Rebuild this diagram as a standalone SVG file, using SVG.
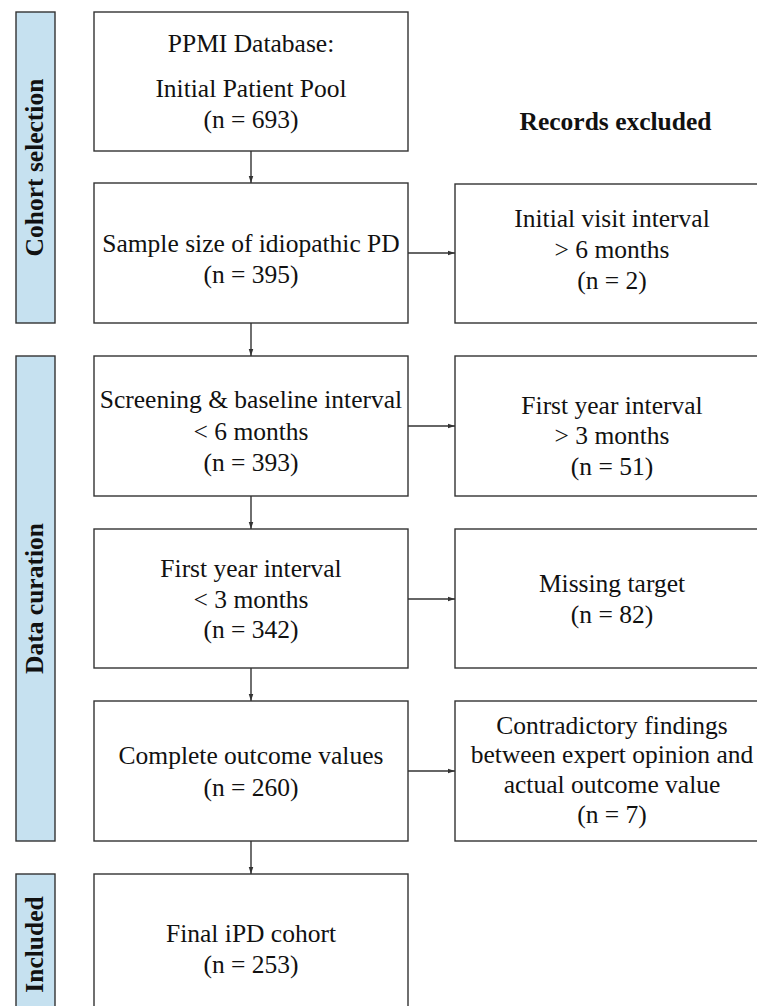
<svg xmlns="http://www.w3.org/2000/svg" width="757" height="1006" viewBox="0 0 757 1006">
<style>
.box{fill:#fff;stroke:#333;stroke-width:1.4}
.side{fill:#c6e1f0;stroke:#333;stroke-width:1.4}
.t{font-family:"Liberation Serif","Times New Roman","DejaVu Serif",serif;font-size:25.5px;fill:#111;text-anchor:middle}
.b{font-family:"Liberation Serif","Times New Roman","DejaVu Serif",serif;font-size:25.5px;font-weight:700;fill:#111;text-anchor:middle}
.c{stroke:#333;stroke-width:1.4;fill:none;marker-end:url(#ah)}
</style>
<defs>
<marker id="ah" viewBox="0 0 10 10" refX="10" refY="5" markerWidth="7" markerHeight="7" markerUnits="userSpaceOnUse" orient="auto">
<path d="M0,1.8 L10,5 L0,8.2 z" fill="#333"/>
</marker>
</defs>
<rect width="757" height="1006" fill="#fff"/>
<g id="side-cohort"><rect class="side" x="16" y="12" width="39" height="311"/><text class="b" transform="translate(43,167.5) rotate(-90)">Cohort selection</text></g>
<g id="side-curation"><rect class="side" x="16" y="356" width="39" height="485"/><text class="b" transform="translate(43,598.5) rotate(-90)">Data curation</text></g>
<g id="side-included"><rect class="side" x="16" y="874" width="39" height="140"/><text class="b" transform="translate(43,944.5) rotate(-90)">Included</text></g>
<g id="hdr"><text class="b" x="615.5" y="130">Records excluded</text></g>
<g id="n1"><rect class="box" x="94" y="12" width="314" height="139"/><text class="t" x="251" y="52">PPMI Database:</text><text class="t" x="251" y="97">Initial Patient Pool</text><text class="t" x="251" y="128">(n = 693)</text></g>
<g id="n2"><rect class="box" x="94" y="183" width="314" height="140"/><text class="t" x="251" y="252">Sample size of idiopathic PD</text><text class="t" x="251" y="283">(n = 395)</text></g>
<g id="n3"><rect class="box" x="94" y="356" width="314" height="140"/><text class="t" x="251" y="408">Screening &amp; baseline interval</text><text class="t" x="251" y="440">&lt; 6 months</text><text class="t" x="251" y="471">(n = 393)</text></g>
<g id="n4"><rect class="box" x="94" y="529" width="314" height="139"/><text class="t" x="251" y="577">First year interval</text><text class="t" x="251" y="608">&lt; 3 months</text><text class="t" x="251" y="638">(n = 342)</text></g>
<g id="n5"><rect class="box" x="94" y="701" width="314" height="140"/><text class="t" x="251" y="764">Complete outcome values</text><text class="t" x="251" y="796">(n = 260)</text></g>
<g id="n6"><rect class="box" x="94" y="874" width="314" height="140"/><text class="t" x="251" y="942">Final iPD cohort</text><text class="t" x="251" y="973">(n = 253)</text></g>
<g id="e1"><rect class="box" x="455" y="184" width="314" height="139"/><text class="t" x="612" y="227">Initial visit interval</text><text class="t" x="612" y="258">&gt; 6 months</text><text class="t" x="612" y="289">(n = 2)</text></g>
<g id="e2"><rect class="box" x="455" y="356" width="314" height="140"/><text class="t" x="612" y="414">First year interval</text><text class="t" x="612" y="444">&gt; 3 months</text><text class="t" x="612" y="475">(n = 51)</text></g>
<g id="e3"><rect class="box" x="455" y="529" width="314" height="139"/><text class="t" x="612" y="592">Missing target</text><text class="t" x="612" y="623">(n = 82)</text></g>
<g id="e4"><rect class="box" x="455" y="701" width="314" height="140"/><text class="t" x="612" y="734">Contradictory findings</text><text class="t" x="612" y="763">between expert opinion and</text><text class="t" x="612" y="793">actual outcome value</text><text class="t" x="612" y="823">(n = 7)</text></g>
<g id="connectors">
<line class="c" x1="251" y1="151" x2="251" y2="183"/>
<line class="c" x1="251" y1="323" x2="251" y2="356"/>
<line class="c" x1="251" y1="496" x2="251" y2="529"/>
<line class="c" x1="251" y1="668" x2="251" y2="701"/>
<line class="c" x1="251" y1="841" x2="251" y2="874"/>
<line class="c" x1="408" y1="253" x2="455" y2="253"/>
<line class="c" x1="408" y1="426" x2="455" y2="426"/>
<line class="c" x1="408" y1="599" x2="455" y2="599"/>
<line class="c" x1="408" y1="771" x2="455" y2="771"/>
</g>
</svg>
